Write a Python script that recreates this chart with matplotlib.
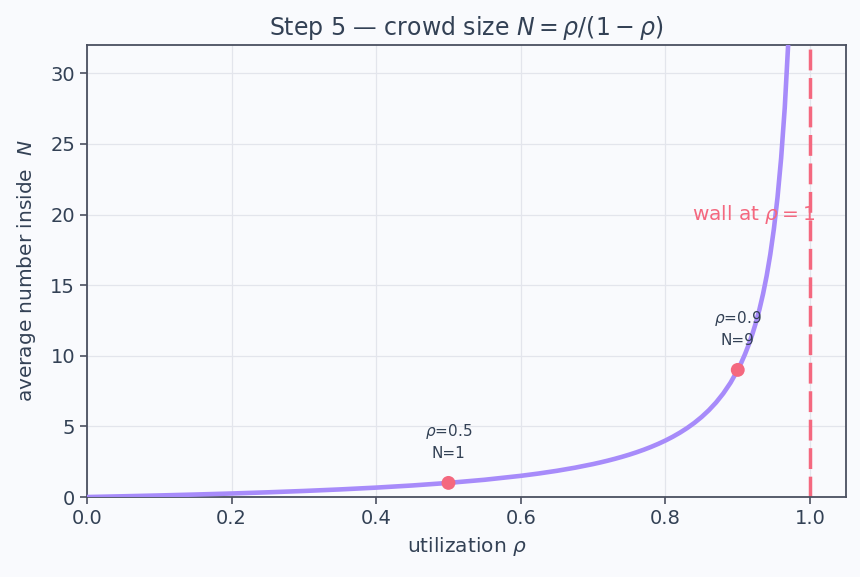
import matplotlib
matplotlib.use("Agg")
import matplotlib.pyplot as plt

# utilization values and the average number inside
rho = [0.0, 0.05, 0.10, 0.15, 0.20, 0.25, 0.30, 0.35, 0.40, 0.45, 0.50, 0.55,
       0.60, 0.625, 0.65, 0.675, 0.70, 0.71, 0.72, 0.73, 0.74, 0.75, 0.76, 0.77,
       0.78, 0.79, 0.80, 0.81, 0.82, 0.83, 0.84, 0.85, 0.86, 0.87, 0.88, 0.89,
       0.90, 0.905, 0.91, 0.915, 0.92, 0.925, 0.93, 0.935, 0.94, 0.945, 0.95,
       0.955, 0.96, 0.965, 0.97, 0.975]
N = [0.0, 0.0526, 0.1111, 0.1765, 0.25, 0.3333, 0.4286, 0.5385, 0.6667, 0.8182,
     1.0, 1.2222, 1.5, 1.6667, 1.8571, 2.0769, 2.3333, 2.4483, 2.5714, 2.7037,
     2.8462, 3.0, 3.1667, 3.3478, 3.5455, 3.7619, 4.0, 4.2632, 4.5556, 4.8824,
     5.25, 5.6667, 6.1429, 6.6923, 7.3333, 8.0909, 9.0, 9.5263, 10.111, 10.765,
     11.5, 12.333, 13.286, 14.385, 15.667, 17.182, 19.0, 21.222, 24.0, 27.571,
     32.333, 39.0]

marked_rho = [0.5, 0.9]
marked_N = [1, 9]
marked_labels = ["$\\rho$=0.5\nN=1", "$\\rho$=0.9\nN=9"]

x_ticks = [0.0, 0.2, 0.4, 0.6, 0.8, 1.0]
y_ticks = [0, 5, 10, 15, 20, 25, 30]

bg = "#f9fafd"
text_c = "#334155"
spine_c = "#4b5060"
purple = "#a78bfa"
pink = "#f4687f"

fig = plt.figure(figsize=(8.6, 5.77), dpi=100, facecolor=bg)
ax = fig.add_axes([0.101, 0.1386, 0.883, 0.7834], facecolor=bg)

ax.plot(rho, N, color=purple, lw=3.3, zorder=3, solid_joinstyle="round")
ax.axvline(1.0, color=pink, lw=2.5, ls=(0, (6, 2.2)), zorder=2)
ax.scatter(marked_rho, marked_N, s=100, color=pink, zorder=4, edgecolors="none")
for x, y, lab in zip(marked_rho, marked_N, marked_labels):
    ax.annotate(lab, (x, y), xytext=(0, 16), textcoords="offset points",
                ha="center", va="bottom", fontsize=11, color=text_c,
                linespacing=1.35)
ax.text(0.922, 20, "wall at $\\rho = 1$", color=pink, fontsize=14.5,
        ha="center", va="center", zorder=5)

ax.set_xlim(0, 1.05)
ax.set_ylim(0, 32)
ax.set_xticks(x_ticks)
ax.set_yticks(y_ticks)
ax.grid(True, color="#e3e5ec", lw=0.9)
ax.set_axisbelow(True)
for s in ax.spines.values():
    s.set_color(spine_c)
    s.set_linewidth(1.3)
ax.tick_params(colors=spine_c, labelcolor=text_c, labelsize=14, length=5, width=1.2)

ax.set_title("Step 5 — crowd size $N = \\rho/(1-\\rho)$", fontsize=17,
             color=text_c, pad=7)
ax.set_xlabel("utilization $\\rho$", fontsize=14.5, color=text_c, labelpad=5)
ax.set_ylabel("average number inside  $N$", fontsize=14.5, color=text_c, labelpad=9)

fig.savefig("out.png", dpi=100, facecolor=bg)
